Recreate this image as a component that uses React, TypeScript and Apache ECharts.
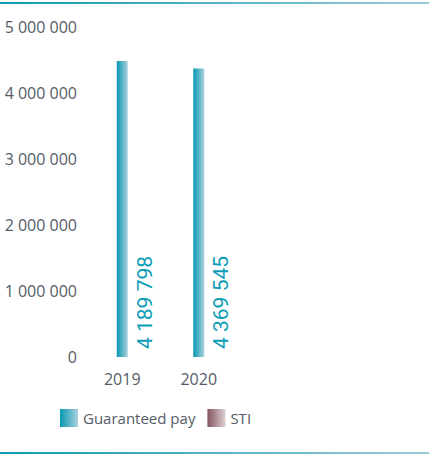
import React, { useEffect, useRef } from "react";
import * as echarts from "echarts";

const categories = ["2019", "2020"];
const guaranteedPay = [4485000, 4369545];
const guaranteedPayLabels = [4189798, 4369545];
const sti: (number | null)[] = [null, null];
const yTicks = [0, 1000000, 2000000, 3000000, 4000000, 5000000];

const fmt = (v: number) =>
  String(Math.round(v)).replace(/\B(?=(\d{3})+(?!\d))/g, " ");

export default function App() {
  const ref = useRef<HTMLDivElement>(null);
  useEffect(() => {
    if (!ref.current) return;
    const chart = echarts.init(ref.current, undefined, { renderer: "svg" });
    const teal = new echarts.graphic.LinearGradient(0, 0, 1, 0, [
      { offset: 0, color: "#0798b3" },
      { offset: 1, color: "#aad1dd" },
    ]);
    const maroon = new echarts.graphic.LinearGradient(0, 0, 1, 0, [
      { offset: 0, color: "#85545f" },
      { offset: 1, color: "#ddd0d3" },
    ]);
    const lineGrad = () =>
      new echarts.graphic.LinearGradient(0, 0, 1, 0, [
        { offset: 0, color: "#0a9bb5" },
        { offset: 1, color: "#9fcad7" },
      ]);
    const textColor = "#555b66";
    chart.setOption({
      animation: false,
      grid: { left: 84, top: 27, width: 153, height: 330, containLabel: false },
      xAxis: {
        type: "category",
        data: categories,
        axisLine: { show: false },
        axisTick: { show: false },
        axisLabel: {
          color: textColor,
          fontFamily: "Open Sans",
          fontSize: 16,
          margin: 14,
        },
      },
      yAxis: {
        type: "value",
        min: yTicks[0],
        max: yTicks[yTicks.length - 1],
        interval: 1000000,
        splitLine: { show: false },
        axisLine: { show: false },
        axisTick: { show: false },
        axisLabel: {
          color: textColor,
          fontFamily: "Open Sans",
          fontSize: 16,
          margin: 7,
          formatter: (v: number) => fmt(v),
        },
      },
      legend: {
        left: 60,
        top: 409,
        padding: 0,
        itemWidth: 18,
        itemHeight: 18,
        itemGap: 12,
        icon: "rect",
        textStyle: { color: textColor, fontFamily: "Open Sans", fontSize: 15 },
        data: ["Guaranteed pay", "STI"],
      },
      series: [
        {
          name: "Guaranteed pay",
          type: "bar",
          stack: "total",
          barWidth: 11,
          data: guaranteedPay,
          itemStyle: { color: teal },
          label: {
            show: true,
            position: ["100%", "100%"],
            rotate: 90,
            align: "left",
            verticalAlign: "middle",
            offset: [8, 17],
            color: "#0d9db6",
            fontFamily: "Roboto",
            fontSize: 21,
            formatter: (p: any) => fmt(guaranteedPayLabels[p.dataIndex]),
          },
        },
        {
          name: "STI",
          type: "bar",
          stack: "total",
          barWidth: 11,
          data: sti,
          itemStyle: { color: maroon },
        },
      ],
      graphic: [
        { type: "rect", left: 0, top: 2, shape: { width: 429, height: 2 }, style: { fill: lineGrad() } },
        { type: "rect", left: 0, top: 452, shape: { width: 429, height: 2 }, style: { fill: lineGrad() } },
      ],
    });
    return () => chart.dispose();
  }, []);
  return (
    <div
      ref={ref}
      style={{ position: "fixed", left: 0, top: 0, width: 431, height: 457, background: "#fff" }}
    />
  );
}
